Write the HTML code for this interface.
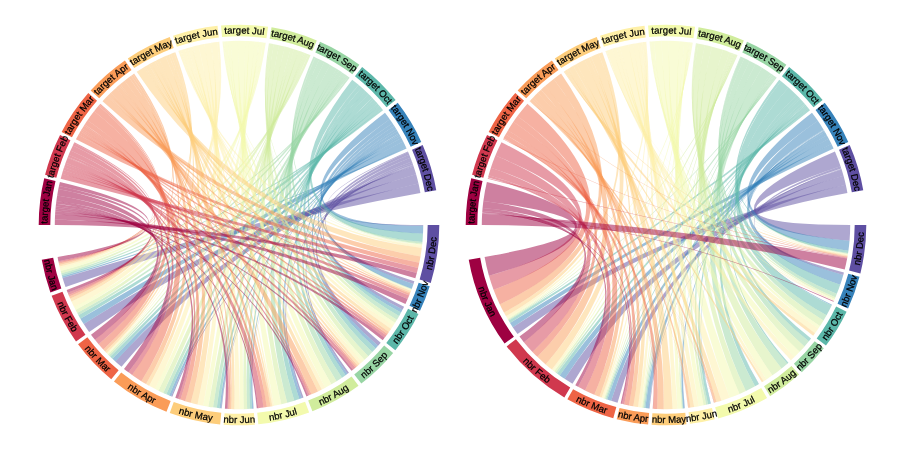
<!DOCTYPE html>
<html><head><meta charset="utf-8"><title>Chord diagrams</title>
<style>
html,body{margin:0;padding:0;background:#fff;}
body{width:900px;height:450px;overflow:hidden;}
svg{display:block;}
text{font-family:"Liberation Sans",sans-serif;font-size:9.6px;fill:#000;stroke:#000;stroke-width:0.25px;}
</style></head><body>
<svg width="900" height="450" viewBox="0 0 900 450">
<rect width="900" height="450" fill="#fff"/>
<defs>
<path id="p0_0" d="M78.85 329.99A191.5 191.5 0 0 1 107.79 85.51"/>
<path id="p0_1" d="M58.37 288.6A191.5 191.5 0 0 1 145 58.16"/>
<path id="p0_2" d="M48.4 243.51A191.5 191.5 0 0 1 187.67 40.51"/>
<path id="p0_3" d="M49.72 195.9A191.5 191.5 0 0 1 234.79 33.55"/>
<path id="p0_4" d="M62.76 150.09A191.5 191.5 0 0 1 282.16 38.43"/>
<path id="p0_5" d="M86.69 108.92A191.5 191.5 0 0 1 326.87 54.85"/>
<path id="p0_6" d="M120.05 74.93A191.5 191.5 0 0 1 366.14 81.79"/>
<path id="p0_7" d="M161.42 49.92A191.5 191.5 0 0 1 397.95 118.2"/>
<path id="p0_8" d="M207.03 36.19A191.5 191.5 0 0 1 419.39 160.73"/>
<path id="p0_9" d="M254.61 34.14A191.5 191.5 0 0 1 429.67 207.23"/>
<path id="p0_10" d="M301.23 43.89A191.5 191.5 0 0 1 428.16 254.83"/>
<path id="p0_11" d="M343.99 64.85A191.5 191.5 0 0 1 414.95 300.59"/>
<path id="p0_12" d="M59.78 140.84A198 198 0 0 0 124.99 386.88"/>
<path id="p0_13" d="M45.24 184.22A198 198 0 0 0 165.2 408.73"/>
<path id="p0_14" d="M41.36 236.93A198 198 0 0 0 216.43 421.71"/>
<path id="p0_15" d="M53.02 292.95A198 198 0 0 0 273.62 419.95"/>
<path id="p0_16" d="M81.27 344.68A198 198 0 0 0 329.47 401.12"/>
<path id="p0_17" d="M111.93 376.84A198 198 0 0 0 366.47 376.51"/>
<path id="p0_18" d="M149.17 401.45A198 198 0 0 0 397.17 344.1"/>
<path id="p0_19" d="M201.46 419.41A198 198 0 0 0 423.94 295.73"/>
<path id="p0_20" d="M252.71 422.52A198 198 0 0 0 435.9 245.8"/>
<path id="p0_21" d="M298.44 413.87A198 198 0 0 0 435.32 199.26"/>
<path id="p0_22" d="M333.23 399.14A198 198 0 0 0 426.86 162.44"/>
<path id="p0_23" d="M370.46 373.06A198 198 0 0 0 407.64 121.25"/>
<path id="p1_0" d="M505.85 329.99A191.5 191.5 0 0 1 534.79 85.51"/>
<path id="p1_1" d="M485.37 288.6A191.5 191.5 0 0 1 572 58.16"/>
<path id="p1_2" d="M475.4 243.51A191.5 191.5 0 0 1 614.67 40.51"/>
<path id="p1_3" d="M476.72 195.9A191.5 191.5 0 0 1 661.79 33.55"/>
<path id="p1_4" d="M489.76 150.09A191.5 191.5 0 0 1 709.16 38.43"/>
<path id="p1_5" d="M513.69 108.92A191.5 191.5 0 0 1 753.87 54.85"/>
<path id="p1_6" d="M547.05 74.93A191.5 191.5 0 0 1 793.14 81.79"/>
<path id="p1_7" d="M588.42 49.92A191.5 191.5 0 0 1 824.95 118.2"/>
<path id="p1_8" d="M634.03 36.19A191.5 191.5 0 0 1 846.39 160.73"/>
<path id="p1_9" d="M681.61 34.14A191.5 191.5 0 0 1 856.67 207.23"/>
<path id="p1_10" d="M728.23 43.89A191.5 191.5 0 0 1 855.16 254.83"/>
<path id="p1_11" d="M770.99 64.85A191.5 191.5 0 0 1 841.95 300.59"/>
<path id="p1_12" d="M476.5 167.61A198 198 0 0 0 576.57 401.65"/>
<path id="p1_13" d="M470.12 253.92A198 198 0 0 0 660.47 422.92"/>
<path id="p1_14" d="M490.56 316.79A198 198 0 0 0 725.94 413.71"/>
<path id="p1_15" d="M515 353.08A198 198 0 0 0 765.91 395.94"/>
<path id="p1_16" d="M541.03 378.58A198 198 0 0 0 795.55 374.74"/>
<path id="p1_17" d="M568.44 397.3A198 198 0 0 0 818.74 351"/>
<path id="p1_18" d="M607.12 414.04A198 198 0 0 0 841.95 315.81"/>
<path id="p1_19" d="M653.88 422.63A198 198 0 0 0 858.52 271.26"/>
<path id="p1_20" d="M691.28 421.38A198 198 0 0 0 863.79 234.21"/>
<path id="p1_21" d="M729.42 412.57A198 198 0 0 0 861.73 195.12"/>
<path id="p1_22" d="M765.58 396.14A198 198 0 0 0 851.83 156.65"/>
<path id="p1_23" d="M801.06 369.78A198 198 0 0 0 832.04 117.13"/>
</defs>
<g stroke="none">
<path d="M418.49 183.61A184.2 184.2 0 0 1 420.4 193.01Q239 225 65.57 287.06A184.2 184.2 0 0 1 62.57 277.94Q239 225 418.49 183.61Z" fill="#5E4FA2" fill-opacity="0.5"/>
<path d="M416.08 174.3A184.2 184.2 0 0 1 418.49 183.61Q239 225 89.11 332.07A184.2 184.2 0 0 1 83.73 324.1Q239 225 416.08 174.3Z" fill="#5E4FA2" fill-opacity="0.5"/>
<path d="M413.66 166.49A184.2 184.2 0 0 1 416.08 174.3Q239 225 121.51 366.87A184.2 184.2 0 0 1 115.34 361.52Q239 225 413.66 166.49Z" fill="#5E4FA2" fill-opacity="0.5"/>
<path d="M413.31 165.46A184.2 184.2 0 0 1 413.66 166.49Q239 225 172.3 396.7A184.2 184.2 0 0 1 171.29 396.3Q239 225 413.31 165.46Z" fill="#5E4FA2" fill-opacity="0.5"/>
<path d="M413.14 164.96A184.2 184.2 0 0 1 413.31 165.46Q239 225 221.7 408.39A184.2 184.2 0 0 1 221.17 408.33Q239 225 413.14 164.96Z" fill="#5E4FA2" fill-opacity="0.5"/>
<path d="M413.05 164.71A184.2 184.2 0 0 1 413.14 164.96Q239 225 253.58 408.62A184.2 184.2 0 0 1 253.32 408.64Q239 225 413.05 164.71Z" fill="#5E4FA2" fill-opacity="0.5"/>
<path d="M412.54 163.24A184.2 184.2 0 0 1 413.05 164.71Q239 225 303.51 397.54A184.2 184.2 0 0 1 302.04 398.08Q239 225 412.54 163.24Z" fill="#5E4FA2" fill-opacity="0.5"/>
<path d="M411.94 161.58A184.2 184.2 0 0 1 412.54 163.24Q239 225 348.93 372.8A184.2 184.2 0 0 1 347.5 373.85Q239 225 411.94 161.58Z" fill="#5E4FA2" fill-opacity="0.5"/>
<path d="M410.49 157.76A184.2 184.2 0 0 1 411.94 161.58Q239 225 380.72 342.66A184.2 184.2 0 0 1 378.08 345.77Q239 225 410.49 157.76Z" fill="#5E4FA2" fill-opacity="0.5"/>
<path d="M409.32 154.84A184.2 184.2 0 0 1 410.49 157.76Q239 225 404.05 306.79A184.2 184.2 0 0 1 402.63 309.59Q239 225 409.32 154.84Z" fill="#5E4FA2" fill-opacity="0.5"/>
<path d="M408.22 152.24A184.2 184.2 0 0 1 409.32 154.84Q239 225 414.38 281.31A184.2 184.2 0 0 1 413.5 284Q239 225 408.22 152.24Z" fill="#5E4FA2" fill-opacity="0.5"/>
<path d="M407.92 151.54A184.2 184.2 0 0 1 408.22 152.24Q239 225 423.2 225A184.2 184.2 0 0 1 423.2 225.76Q239 225 407.92 151.54Z" fill="#5E4FA2" fill-opacity="0.5"/>
<path d="M406.01 147.31A184.2 184.2 0 0 1 406.61 148.6Q239 225 62.57 277.94A184.2 184.2 0 0 1 62.17 276.58Q239 225 406.01 147.31Z" fill="#3682BA" fill-opacity="0.5"/>
<path d="M403.22 141.57A184.2 184.2 0 0 1 406.01 147.31Q239 225 83.73 324.1A184.2 184.2 0 0 1 80.39 318.66Q239 225 403.22 141.57Z" fill="#3682BA" fill-opacity="0.5"/>
<path d="M401.37 138.03A184.2 184.2 0 0 1 403.22 141.57Q239 225 115.34 361.52A184.2 184.2 0 0 1 112.4 358.8Q239 225 401.37 138.03Z" fill="#3682BA" fill-opacity="0.5"/>
<path d="M400.28 136.01A184.2 184.2 0 0 1 401.37 138.03Q239 225 171.29 396.3A184.2 184.2 0 0 1 169.16 395.45Q239 225 400.28 136.01Z" fill="#3682BA" fill-opacity="0.5"/>
<path d="M399.48 134.58A184.2 184.2 0 0 1 400.28 136.01Q239 225 221.17 408.33A184.2 184.2 0 0 1 219.53 408.17Q239 225 399.48 134.58Z" fill="#3682BA" fill-opacity="0.5"/>
<path d="M398.86 133.49A184.2 184.2 0 0 1 399.48 134.58Q239 225 253.32 408.64A184.2 184.2 0 0 1 252.07 408.74Q239 225 398.86 133.49Z" fill="#3682BA" fill-opacity="0.5"/>
<path d="M397.44 131.05A184.2 184.2 0 0 1 398.86 133.49Q239 225 302.04 398.08A184.2 184.2 0 0 1 299.38 399.02Q239 225 397.44 131.05Z" fill="#3682BA" fill-opacity="0.5"/>
<path d="M396.23 129.04A184.2 184.2 0 0 1 397.44 131.05Q239 225 347.5 373.85A184.2 184.2 0 0 1 345.61 375.21Q239 225 396.23 129.04Z" fill="#3682BA" fill-opacity="0.5"/>
<path d="M394.37 126.05A184.2 184.2 0 0 1 396.23 129.04Q239 225 378.08 345.77A184.2 184.2 0 0 1 375.75 348.41Q239 225 394.37 126.05Z" fill="#3682BA" fill-opacity="0.5"/>
<path d="M392.56 123.26A184.2 184.2 0 0 1 394.37 126.05Q239 225 402.63 309.59A184.2 184.2 0 0 1 401.07 312.54Q239 225 392.56 123.26Z" fill="#3682BA" fill-opacity="0.5"/>
<path d="M389.75 119.15A184.2 184.2 0 0 1 392.56 123.26Q239 225 413.5 284A184.2 184.2 0 0 1 411.84 288.7Q239 225 389.75 119.15Z" fill="#3682BA" fill-opacity="0.5"/>
<path d="M384.99 112.68A184.2 184.2 0 0 1 389.75 119.15Q239 225 423.2 225.76A184.2 184.2 0 0 1 422.99 233.78Q239 225 384.99 112.68Z" fill="#3682BA" fill-opacity="0.5"/>
<path d="M381.96 108.85A184.2 184.2 0 0 1 383.01 110.15Q239 225 62.17 276.58A184.2 184.2 0 0 1 61.71 274.97Q239 225 381.96 108.85Z" fill="#5CB7A9" fill-opacity="0.5"/>
<path d="M379.48 105.86A184.2 184.2 0 0 1 381.96 108.85Q239 225 80.39 318.66A184.2 184.2 0 0 1 78.45 315.3Q239 225 379.48 105.86Z" fill="#5CB7A9" fill-opacity="0.5"/>
<path d="M377.46 103.51A184.2 184.2 0 0 1 379.48 105.86Q239 225 112.4 358.8A184.2 184.2 0 0 1 110.17 356.65Q239 225 377.46 103.51Z" fill="#5CB7A9" fill-opacity="0.5"/>
<path d="M375.44 101.26A184.2 184.2 0 0 1 377.46 103.51Q239 225 169.16 395.45A184.2 184.2 0 0 1 166.37 394.28Q239 225 375.44 101.26Z" fill="#5CB7A9" fill-opacity="0.5"/>
<path d="M373.58 99.23A184.2 184.2 0 0 1 375.44 101.26Q239 225 219.53 408.17A184.2 184.2 0 0 1 216.8 407.86Q239 225 373.58 99.23Z" fill="#5CB7A9" fill-opacity="0.5"/>
<path d="M372.24 97.81A184.2 184.2 0 0 1 373.58 99.23Q239 225 252.07 408.74A184.2 184.2 0 0 1 250.12 408.86Q239 225 372.24 97.81Z" fill="#5CB7A9" fill-opacity="0.5"/>
<path d="M368.56 94.07A184.2 184.2 0 0 1 372.24 97.81Q239 225 299.38 399.02A184.2 184.2 0 0 1 294.4 400.67Q239 225 368.56 94.07Z" fill="#5CB7A9" fill-opacity="0.5"/>
<path d="M365.41 91.02A184.2 184.2 0 0 1 368.56 94.07Q239 225 345.61 375.21A184.2 184.2 0 0 1 342.01 377.71Q239 225 365.41 91.02Z" fill="#5CB7A9" fill-opacity="0.5"/>
<path d="M361.69 87.61A184.2 184.2 0 0 1 365.41 91.02Q239 225 375.75 348.41A184.2 184.2 0 0 1 372.31 352.12Q239 225 361.69 87.61Z" fill="#5CB7A9" fill-opacity="0.5"/>
<path d="M358.75 85.04A184.2 184.2 0 0 1 361.69 87.61Q239 225 401.07 312.54A184.2 184.2 0 0 1 399.18 315.95Q239 225 358.75 85.04Z" fill="#5CB7A9" fill-opacity="0.5"/>
<path d="M358.53 84.85A184.2 184.2 0 0 1 358.75 85.04Q239 225 411.84 288.7A184.2 184.2 0 0 1 411.74 288.97Q239 225 358.53 84.85Z" fill="#5CB7A9" fill-opacity="0.5"/>
<path d="M352.21 79.7A184.2 184.2 0 0 1 358.53 84.85Q239 225 422.99 233.78A184.2 184.2 0 0 1 422.42 241.91Q239 225 352.21 79.7Z" fill="#5CB7A9" fill-opacity="0.5"/>
<path d="M348.31 76.74A184.2 184.2 0 0 1 349.66 77.74Q239 225 61.71 274.97A184.2 184.2 0 0 1 61.26 273.35Q239 225 348.31 76.74Z" fill="#98D5A4" fill-opacity="0.5"/>
<path d="M346.29 75.27A184.2 184.2 0 0 1 348.31 76.74Q239 225 78.45 315.3A184.2 184.2 0 0 1 77.24 313.12Q239 225 346.29 75.27Z" fill="#98D5A4" fill-opacity="0.5"/>
<path d="M344.94 74.32A184.2 184.2 0 0 1 346.29 75.27Q239 225 110.17 356.65A184.2 184.2 0 0 1 108.99 355.49Q239 225 344.94 74.32Z" fill="#98D5A4" fill-opacity="0.5"/>
<path d="M342.14 72.38A184.2 184.2 0 0 1 344.94 74.32Q239 225 166.37 394.28A184.2 184.2 0 0 1 163.25 392.91Q239 225 342.14 72.38Z" fill="#98D5A4" fill-opacity="0.5"/>
<path d="M339.04 70.33A184.2 184.2 0 0 1 342.14 72.38Q239 225 216.8 407.86A184.2 184.2 0 0 1 213.12 407.37Q239 225 339.04 70.33Z" fill="#98D5A4" fill-opacity="0.5"/>
<path d="M336.56 68.76A184.2 184.2 0 0 1 339.04 70.33Q239 225 250.12 408.86A184.2 184.2 0 0 1 247.18 409.02Q239 225 336.56 68.76Z" fill="#98D5A4" fill-opacity="0.5"/>
<path d="M330.14 64.93A184.2 184.2 0 0 1 336.56 68.76Q239 225 294.4 400.67A184.2 184.2 0 0 1 287.23 402.77Q239 225 330.14 64.93Z" fill="#98D5A4" fill-opacity="0.5"/>
<path d="M324.46 61.83A184.2 184.2 0 0 1 330.14 64.93Q239 225 342.01 377.71A184.2 184.2 0 0 1 336.58 381.23Q239 225 324.46 61.83Z" fill="#98D5A4" fill-opacity="0.5"/>
<path d="M319.38 59.26A184.2 184.2 0 0 1 324.46 61.83Q239 225 372.31 352.12A184.2 184.2 0 0 1 368.32 356.17Q239 225 319.38 59.26Z" fill="#98D5A4" fill-opacity="0.5"/>
<path d="M315.41 57.39A184.2 184.2 0 0 1 319.38 59.26Q239 225 399.18 315.95A184.2 184.2 0 0 1 396.97 319.74Q239 225 315.41 57.39Z" fill="#98D5A4" fill-opacity="0.5"/>
<path d="M315.11 57.26A184.2 184.2 0 0 1 315.41 57.39Q239 225 411.74 288.97A184.2 184.2 0 0 1 411.62 289.28Q239 225 315.11 57.26Z" fill="#98D5A4" fill-opacity="0.5"/>
<path d="M313.49 56.54A184.2 184.2 0 0 1 315.11 57.26Q239 225 422.42 241.91A184.2 184.2 0 0 1 422.25 243.67Q239 225 313.49 56.54Z" fill="#98D5A4" fill-opacity="0.5"/>
<path d="M308.33 54.35A184.2 184.2 0 0 1 310.54 55.26Q239 225 61.26 273.35A184.2 184.2 0 0 1 60.65 271.04Q239 225 308.33 54.35Z" fill="#D0EC9C" fill-opacity="0.5"/>
<path d="M305.01 53.03A184.2 184.2 0 0 1 308.33 54.35Q239 225 77.24 313.12A184.2 184.2 0 0 1 75.57 309.97Q239 225 305.01 53.03Z" fill="#D0EC9C" fill-opacity="0.5"/>
<path d="M303.61 52.5A184.2 184.2 0 0 1 305.01 53.03Q239 225 108.99 355.49A184.2 184.2 0 0 1 107.93 354.42Q239 225 303.61 52.5Z" fill="#D0EC9C" fill-opacity="0.5"/>
<path d="M298.66 50.73A184.2 184.2 0 0 1 303.61 52.5Q239 225 163.25 392.91A184.2 184.2 0 0 1 158.5 390.68Q239 225 298.66 50.73Z" fill="#D0EC9C" fill-opacity="0.5"/>
<path d="M294.09 49.23A184.2 184.2 0 0 1 298.66 50.73Q239 225 213.12 407.37A184.2 184.2 0 0 1 208.37 406.63Q239 225 294.09 49.23Z" fill="#D0EC9C" fill-opacity="0.5"/>
<path d="M290.79 48.23A184.2 184.2 0 0 1 294.09 49.23Q239 225 247.18 409.02A184.2 184.2 0 0 1 243.73 409.14Q239 225 290.79 48.23Z" fill="#D0EC9C" fill-opacity="0.5"/>
<path d="M284.91 46.61A184.2 184.2 0 0 1 290.79 48.23Q239 225 287.23 402.77A184.2 184.2 0 0 1 281.32 404.27Q239 225 284.91 46.61Z" fill="#D0EC9C" fill-opacity="0.5"/>
<path d="M279.03 45.2A184.2 184.2 0 0 1 284.91 46.61Q239 225 336.58 381.23A184.2 184.2 0 0 1 331.4 384.35Q239 225 279.03 45.2Z" fill="#D0EC9C" fill-opacity="0.5"/>
<path d="M273.86 44.13A184.2 184.2 0 0 1 279.03 45.2Q239 225 368.32 356.17A184.2 184.2 0 0 1 364.5 359.83Q239 225 273.86 44.13Z" fill="#D0EC9C" fill-opacity="0.5"/>
<path d="M270.33 43.48A184.2 184.2 0 0 1 273.86 44.13Q239 225 396.97 319.74A184.2 184.2 0 0 1 395.09 322.8Q239 225 270.33 43.48Z" fill="#D0EC9C" fill-opacity="0.5"/>
<path d="M270.07 43.44A184.2 184.2 0 0 1 270.33 43.48Q239 225 411.62 289.28A184.2 184.2 0 0 1 411.53 289.53Q239 225 270.07 43.44Z" fill="#D0EC9C" fill-opacity="0.5"/>
<path d="M268.93 43.25A184.2 184.2 0 0 1 270.07 43.44Q239 225 422.25 243.67A184.2 184.2 0 0 1 422.13 244.82Q239 225 268.93 43.25Z" fill="#D0EC9C" fill-opacity="0.5"/>
<path d="M263.08 42.38A184.2 184.2 0 0 1 265.75 42.75Q239 225 60.65 271.04A184.2 184.2 0 0 1 59.99 268.42Q239 225 263.08 42.38Z" fill="#F3FAAD" fill-opacity="0.5"/>
<path d="M259.53 41.95A184.2 184.2 0 0 1 263.08 42.38Q239 225 75.57 309.97A184.2 184.2 0 0 1 73.95 306.78Q239 225 259.53 41.95Z" fill="#F3FAAD" fill-opacity="0.5"/>
<path d="M258.53 41.84A184.2 184.2 0 0 1 259.53 41.95Q239 225 107.93 354.42A184.2 184.2 0 0 1 107.22 353.7Q239 225 258.53 41.84Z" fill="#F3FAAD" fill-opacity="0.5"/>
<path d="M254.48 41.45A184.2 184.2 0 0 1 258.53 41.84Q239 225 158.5 390.68A184.2 184.2 0 0 1 154.86 388.86Q239 225 254.48 41.45Z" fill="#F3FAAD" fill-opacity="0.5"/>
<path d="M249.17 41.08A184.2 184.2 0 0 1 254.48 41.45Q239 225 208.37 406.63A184.2 184.2 0 0 1 203.13 405.67Q239 225 249.17 41.08Z" fill="#F3FAAD" fill-opacity="0.5"/>
<path d="M245.23 40.91A184.2 184.2 0 0 1 249.17 41.08Q239 225 243.73 409.14A184.2 184.2 0 0 1 239.78 409.2Q239 225 245.23 40.91Z" fill="#F3FAAD" fill-opacity="0.5"/>
<path d="M237.88 40.8A184.2 184.2 0 0 1 245.23 40.91Q239 225 281.32 404.27A184.2 184.2 0 0 1 274.14 405.82Q239 225 237.88 40.8Z" fill="#F3FAAD" fill-opacity="0.5"/>
<path d="M230.82 40.98A184.2 184.2 0 0 1 237.88 40.8Q239 225 331.4 384.35A184.2 184.2 0 0 1 325.22 387.77Q239 225 230.82 40.98Z" fill="#F3FAAD" fill-opacity="0.5"/>
<path d="M227.67 41.15A184.2 184.2 0 0 1 230.82 40.98Q239 225 364.5 359.83A184.2 184.2 0 0 1 362.18 361.95Q239 225 227.67 41.15Z" fill="#F3FAAD" fill-opacity="0.5"/>
<path d="M224.17 41.4A184.2 184.2 0 0 1 227.67 41.15Q239 225 395.09 322.8A184.2 184.2 0 0 1 393.2 325.76Q239 225 224.17 41.4Z" fill="#F3FAAD" fill-opacity="0.5"/>
<path d="M223.46 41.46A184.2 184.2 0 0 1 224.17 41.4Q239 225 411.53 289.53A184.2 184.2 0 0 1 411.28 290.19Q239 225 223.46 41.46Z" fill="#F3FAAD" fill-opacity="0.5"/>
<path d="M222.45 41.54A184.2 184.2 0 0 1 223.46 41.46Q239 225 422.13 244.82A184.2 184.2 0 0 1 422.02 245.83Q239 225 222.45 41.54Z" fill="#F3FAAD" fill-opacity="0.5"/>
<path d="M217.31 42.08A184.2 184.2 0 0 1 219.26 41.86Q239 225 59.99 268.42A184.2 184.2 0 0 1 59.54 266.52Q239 225 217.31 42.08Z" fill="#FEF0A7" fill-opacity="0.5"/>
<path d="M211.53 42.86A184.2 184.2 0 0 1 217.31 42.08Q239 225 73.95 306.78A184.2 184.2 0 0 1 71.44 301.51Q239 225 211.53 42.86Z" fill="#FEF0A7" fill-opacity="0.5"/>
<path d="M210.59 43A184.2 184.2 0 0 1 211.53 42.86Q239 225 107.22 353.7A184.2 184.2 0 0 1 106.56 353.02Q239 225 210.59 43Z" fill="#FEF0A7" fill-opacity="0.5"/>
<path d="M204.2 44.12A184.2 184.2 0 0 1 210.59 43Q239 225 154.86 388.86A184.2 184.2 0 0 1 149.14 385.8Q239 225 204.2 44.12Z" fill="#FEF0A7" fill-opacity="0.5"/>
<path d="M198.53 45.3A184.2 184.2 0 0 1 204.2 44.12Q239 225 203.13 405.67A184.2 184.2 0 0 1 197.47 404.46Q239 225 198.53 45.3Z" fill="#FEF0A7" fill-opacity="0.5"/>
<path d="M193.24 46.57A184.2 184.2 0 0 1 198.53 45.3Q239 225 239.78 409.2A184.2 184.2 0 0 1 234.34 409.14Q239 225 193.24 46.57Z" fill="#FEF0A7" fill-opacity="0.5"/>
<path d="M191.6 47A184.2 184.2 0 0 1 193.24 46.57Q239 225 274.14 405.82A184.2 184.2 0 0 1 272.47 406.13Q239 225 191.6 47Z" fill="#FEF0A7" fill-opacity="0.5"/>
<path d="M187.9 48.03A184.2 184.2 0 0 1 191.6 47Q239 225 325.22 387.77A184.2 184.2 0 0 1 321.81 389.54Q239 225 187.9 48.03Z" fill="#FEF0A7" fill-opacity="0.5"/>
<path d="M184.81 48.95A184.2 184.2 0 0 1 187.9 48.03Q239 225 362.18 361.95A184.2 184.2 0 0 1 359.76 364.09Q239 225 184.81 48.95Z" fill="#FEF0A7" fill-opacity="0.5"/>
<path d="M181.17 50.11A184.2 184.2 0 0 1 184.81 48.95Q239 225 393.2 325.76A184.2 184.2 0 0 1 391.07 328.94Q239 225 181.17 50.11Z" fill="#FEF0A7" fill-opacity="0.5"/>
<path d="M180.44 50.36A184.2 184.2 0 0 1 181.17 50.11Q239 225 411.28 290.19A184.2 184.2 0 0 1 411 290.91Q239 225 180.44 50.36Z" fill="#FEF0A7" fill-opacity="0.5"/>
<path d="M178.36 51.07A184.2 184.2 0 0 1 180.44 50.36Q239 225 422.02 245.83A184.2 184.2 0 0 1 421.76 248.01Q239 225 178.36 51.07Z" fill="#FEF0A7" fill-opacity="0.5"/>
<path d="M173.8 52.72A184.2 184.2 0 0 1 175.33 52.15Q239 225 59.54 266.52A184.2 184.2 0 0 1 59.18 264.93Q239 225 173.8 52.72Z" fill="#FDCD7B" fill-opacity="0.5"/>
<path d="M170.78 53.9A184.2 184.2 0 0 1 173.8 52.72Q239 225 71.44 301.51A184.2 184.2 0 0 1 70.12 298.55Q239 225 170.78 53.9Z" fill="#FDCD7B" fill-opacity="0.5"/>
<path d="M168.82 54.69A184.2 184.2 0 0 1 170.78 53.9Q239 225 106.56 353.02A184.2 184.2 0 0 1 105.09 351.48Q239 225 168.82 54.69Z" fill="#FDCD7B" fill-opacity="0.5"/>
<path d="M165.5 56.1A184.2 184.2 0 0 1 168.82 54.69Q239 225 149.14 385.8A184.2 184.2 0 0 1 146.02 384.01Q239 225 165.5 56.1Z" fill="#FDCD7B" fill-opacity="0.5"/>
<path d="M159.17 59A184.2 184.2 0 0 1 165.5 56.1Q239 225 197.47 404.46A184.2 184.2 0 0 1 190.72 402.76Q239 225 159.17 59Z" fill="#FDCD7B" fill-opacity="0.5"/>
<path d="M156.31 60.4A184.2 184.2 0 0 1 159.17 59Q239 225 234.34 409.14A184.2 184.2 0 0 1 231.17 409.03Q239 225 156.31 60.4Z" fill="#FDCD7B" fill-opacity="0.5"/>
<path d="M154.63 61.26A184.2 184.2 0 0 1 156.31 60.4Q239 225 272.47 406.13A184.2 184.2 0 0 1 270.61 406.47Q239 225 154.63 61.26Z" fill="#FDCD7B" fill-opacity="0.5"/>
<path d="M150.86 63.25A184.2 184.2 0 0 1 154.63 61.26Q239 225 321.81 389.54A184.2 184.2 0 0 1 317.98 391.41Q239 225 150.86 63.25Z" fill="#FDCD7B" fill-opacity="0.5"/>
<path d="M148.71 64.45A184.2 184.2 0 0 1 150.86 63.25Q239 225 359.76 364.09A184.2 184.2 0 0 1 357.89 365.69Q239 225 148.71 64.45Z" fill="#FDCD7B" fill-opacity="0.5"/>
<path d="M145.42 66.34A184.2 184.2 0 0 1 148.71 64.45Q239 225 391.07 328.94A184.2 184.2 0 0 1 388.9 332.05Q239 225 145.42 66.34Z" fill="#FDCD7B" fill-opacity="0.5"/>
<path d="M143.95 67.22A184.2 184.2 0 0 1 145.42 66.34Q239 225 411 290.91A184.2 184.2 0 0 1 410.39 292.5Q239 225 143.95 67.22Z" fill="#FDCD7B" fill-opacity="0.5"/>
<path d="M136.73 71.8A184.2 184.2 0 0 1 143.95 67.22Q239 225 421.76 248.01A184.2 184.2 0 0 1 420.49 256.47Q239 225 136.73 71.8Z" fill="#FDCD7B" fill-opacity="0.5"/>
<path d="M132.95 74.39A184.2 184.2 0 0 1 134.07 73.61Q239 225 59.18 264.93A184.2 184.2 0 0 1 58.89 263.6Q239 225 132.95 74.39Z" fill="#FA9C58" fill-opacity="0.5"/>
<path d="M131.11 75.71A184.2 184.2 0 0 1 132.95 74.39Q239 225 70.12 298.55A184.2 184.2 0 0 1 69.23 296.47Q239 225 131.11 75.71Z" fill="#FA9C58" fill-opacity="0.5"/>
<path d="M128.95 77.29A184.2 184.2 0 0 1 131.11 75.71Q239 225 105.09 351.48A184.2 184.2 0 0 1 103.27 349.53Q239 225 128.95 77.29Z" fill="#FA9C58" fill-opacity="0.5"/>
<path d="M124.6 80.63A184.2 184.2 0 0 1 128.95 77.29Q239 225 146.02 384.01A184.2 184.2 0 0 1 141.32 381.17Q239 225 124.6 80.63Z" fill="#FA9C58" fill-opacity="0.5"/>
<path d="M120.08 84.33A184.2 184.2 0 0 1 124.6 80.63Q239 225 190.72 402.76A184.2 184.2 0 0 1 185.1 401.14Q239 225 120.08 84.33Z" fill="#FA9C58" fill-opacity="0.5"/>
<path d="M118.86 85.37A184.2 184.2 0 0 1 120.08 84.33Q239 225 231.17 409.03A184.2 184.2 0 0 1 229.57 408.96Q239 225 118.86 85.37Z" fill="#FA9C58" fill-opacity="0.5"/>
<path d="M115.98 87.91A184.2 184.2 0 0 1 118.86 85.37Q239 225 270.61 406.47A184.2 184.2 0 0 1 266.83 407.09Q239 225 115.98 87.91Z" fill="#FA9C58" fill-opacity="0.5"/>
<path d="M110.74 92.79A184.2 184.2 0 0 1 115.98 87.91Q239 225 317.98 391.41A184.2 184.2 0 0 1 311.45 394.35Q239 225 110.74 92.79Z" fill="#FA9C58" fill-opacity="0.5"/>
<path d="M109.54 93.97A184.2 184.2 0 0 1 110.74 92.79Q239 225 357.89 365.69A184.2 184.2 0 0 1 356.6 366.77Q239 225 109.54 93.97Z" fill="#FA9C58" fill-opacity="0.5"/>
<path d="M107.94 95.56A184.2 184.2 0 0 1 109.54 93.97Q239 225 388.9 332.05A184.2 184.2 0 0 1 387.58 333.88Q239 225 107.94 95.56Z" fill="#FA9C58" fill-opacity="0.5"/>
<path d="M106.94 96.59A184.2 184.2 0 0 1 107.94 95.56Q239 225 410.39 292.5A184.2 184.2 0 0 1 409.86 293.83Q239 225 106.94 96.59Z" fill="#FA9C58" fill-opacity="0.5"/>
<path d="M102.56 101.26A184.2 184.2 0 0 1 106.94 96.59Q239 225 420.49 256.47A184.2 184.2 0 0 1 419.29 262.76Q239 225 102.56 101.26Z" fill="#FA9C58" fill-opacity="0.5"/>
<path d="M99.59 104.61A184.2 184.2 0 0 1 100.42 103.66Q239 225 58.89 263.6A184.2 184.2 0 0 1 58.63 262.36Q239 225 99.59 104.61Z" fill="#EE6445" fill-opacity="0.5"/>
<path d="M98.51 105.87A184.2 184.2 0 0 1 99.59 104.61Q239 225 69.23 296.47A184.2 184.2 0 0 1 68.59 294.93Q239 225 98.51 105.87Z" fill="#EE6445" fill-opacity="0.5"/>
<path d="M94.08 111.31A184.2 184.2 0 0 1 98.51 105.87Q239 225 103.27 349.53A184.2 184.2 0 0 1 98.63 344.28Q239 225 94.08 111.31Z" fill="#EE6445" fill-opacity="0.5"/>
<path d="M87.47 120.26A184.2 184.2 0 0 1 94.08 111.31Q239 225 141.32 381.17A184.2 184.2 0 0 1 132.07 374.98Q239 225 87.47 120.26Z" fill="#EE6445" fill-opacity="0.5"/>
<path d="M84.7 124.39A184.2 184.2 0 0 1 87.47 120.26Q239 225 185.1 401.14A184.2 184.2 0 0 1 180.37 399.62Q239 225 84.7 124.39Z" fill="#EE6445" fill-opacity="0.5"/>
<path d="M83.9 125.63A184.2 184.2 0 0 1 84.7 124.39Q239 225 229.57 408.96A184.2 184.2 0 0 1 228.1 408.88Q239 225 83.9 125.63Z" fill="#EE6445" fill-opacity="0.5"/>
<path d="M82.14 128.44A184.2 184.2 0 0 1 83.9 125.63Q239 225 266.83 407.09A184.2 184.2 0 0 1 263.53 407.56Q239 225 82.14 128.44Z" fill="#EE6445" fill-opacity="0.5"/>
<path d="M81.17 130.03A184.2 184.2 0 0 1 82.14 128.44Q239 225 311.45 394.35A184.2 184.2 0 0 1 309.74 395.07Q239 225 81.17 130.03Z" fill="#EE6445" fill-opacity="0.5"/>
<path d="M80.37 131.36A184.2 184.2 0 0 1 81.17 130.03Q239 225 356.6 366.77A184.2 184.2 0 0 1 355.4 367.76Q239 225 80.37 131.36Z" fill="#EE6445" fill-opacity="0.5"/>
<path d="M79.33 133.16A184.2 184.2 0 0 1 80.37 131.36Q239 225 387.58 333.88A184.2 184.2 0 0 1 386.34 335.54Q239 225 79.33 133.16Z" fill="#EE6445" fill-opacity="0.5"/>
<path d="M78.46 134.68A184.2 184.2 0 0 1 79.33 133.16Q239 225 409.86 293.83A184.2 184.2 0 0 1 409.19 295.46Q239 225 78.46 134.68Z" fill="#EE6445" fill-opacity="0.5"/>
<path d="M75.91 139.37A184.2 184.2 0 0 1 78.46 134.68Q239 225 419.29 262.76A184.2 184.2 0 0 1 418.12 267.97Q239 225 75.91 139.37Z" fill="#EE6445" fill-opacity="0.5"/>
<path d="M73.89 143.34A184.2 184.2 0 0 1 74.44 142.23Q239 225 58.63 262.36A184.2 184.2 0 0 1 58.38 261.15Q239 225 73.89 143.34Z" fill="#D0384E" fill-opacity="0.5"/>
<path d="M72.9 145.38A184.2 184.2 0 0 1 73.89 143.34Q239 225 68.59 294.93A184.2 184.2 0 0 1 67.74 292.83Q239 225 72.9 145.38Z" fill="#D0384E" fill-opacity="0.5"/>
<path d="M70.48 150.62A184.2 184.2 0 0 1 72.9 145.38Q239 225 98.63 344.28A184.2 184.2 0 0 1 94.96 339.82Q239 225 70.48 150.62Z" fill="#D0384E" fill-opacity="0.5"/>
<path d="M68.72 154.75A184.2 184.2 0 0 1 70.48 150.62Q239 225 132.07 374.98A184.2 184.2 0 0 1 128.45 372.33Q239 225 68.72 154.75Z" fill="#D0384E" fill-opacity="0.5"/>
<path d="M67.8 157.02A184.2 184.2 0 0 1 68.72 154.75Q239 225 180.37 399.62A184.2 184.2 0 0 1 178.06 398.83Q239 225 67.8 157.02Z" fill="#D0384E" fill-opacity="0.5"/>
<path d="M67.54 157.69A184.2 184.2 0 0 1 67.8 157.02Q239 225 228.1 408.88A184.2 184.2 0 0 1 227.37 408.83Q239 225 67.54 157.69Z" fill="#D0384E" fill-opacity="0.5"/>
<path d="M65.66 162.68A184.2 184.2 0 0 1 67.54 157.69Q239 225 263.53 407.56A184.2 184.2 0 0 1 258.24 408.19Q239 225 65.66 162.68Z" fill="#D0384E" fill-opacity="0.5"/>
<path d="M65.05 164.4A184.2 184.2 0 0 1 65.66 162.68Q239 225 309.74 395.07A184.2 184.2 0 0 1 308.05 395.77Q239 225 65.05 164.4Z" fill="#D0384E" fill-opacity="0.5"/>
<path d="M64.07 167.31A184.2 184.2 0 0 1 65.05 164.4Q239 225 355.4 367.76A184.2 184.2 0 0 1 353 369.68Q239 225 64.07 167.31Z" fill="#D0384E" fill-opacity="0.5"/>
<path d="M63.18 170.06A184.2 184.2 0 0 1 64.07 167.31Q239 225 386.34 335.54A184.2 184.2 0 0 1 384.59 337.84Q239 225 63.18 170.06Z" fill="#D0384E" fill-opacity="0.5"/>
<path d="M62.06 173.8A184.2 184.2 0 0 1 63.18 170.06Q239 225 409.19 295.46A184.2 184.2 0 0 1 407.66 299.05Q239 225 62.06 173.8Z" fill="#D0384E" fill-opacity="0.5"/>
<path d="M60.67 178.87A184.2 184.2 0 0 1 62.06 173.8Q239 225 418.12 267.97A184.2 184.2 0 0 1 416.82 273.06Q239 225 60.67 178.87Z" fill="#D0384E" fill-opacity="0.5"/>
<path d="M58.95 186.12A184.2 184.2 0 0 1 59.89 181.99Q239 225 58.38 261.15A184.2 184.2 0 0 1 57.6 256.99Q239 225 58.95 186.12Z" fill="#9E0142" fill-opacity="0.5"/>
<path d="M58.35 189A184.2 184.2 0 0 1 58.95 186.12Q239 225 67.74 292.83A184.2 184.2 0 0 1 66.68 290.08Q239 225 58.35 189Z" fill="#9E0142" fill-opacity="0.5"/>
<path d="M57.2 195.39A184.2 184.2 0 0 1 58.35 189Q239 225 94.96 339.82A184.2 184.2 0 0 1 91.01 334.67Q239 225 57.2 195.39Z" fill="#9E0142" fill-opacity="0.5"/>
<path d="M56.38 200.94A184.2 184.2 0 0 1 57.2 195.39Q239 225 128.45 372.33A184.2 184.2 0 0 1 124.01 368.9Q239 225 56.38 200.94Z" fill="#9E0142" fill-opacity="0.5"/>
<path d="M56.02 203.85A184.2 184.2 0 0 1 56.38 200.94Q239 225 178.06 398.83A184.2 184.2 0 0 1 175.31 397.84Q239 225 56.02 203.85Z" fill="#9E0142" fill-opacity="0.5"/>
<path d="M55.75 206.31A184.2 184.2 0 0 1 56.02 203.85Q239 225 227.37 408.83A184.2 184.2 0 0 1 224.9 408.66Q239 225 55.75 206.31Z" fill="#9E0142" fill-opacity="0.5"/>
<path d="M55.61 207.77A184.2 184.2 0 0 1 55.75 206.31Q239 225 258.24 408.19A184.2 184.2 0 0 1 256.78 408.34Q239 225 55.61 207.77Z" fill="#9E0142" fill-opacity="0.5"/>
<path d="M55.46 209.43A184.2 184.2 0 0 1 55.61 207.77Q239 225 308.05 395.77A184.2 184.2 0 0 1 306.51 396.38Q239 225 55.46 209.43Z" fill="#9E0142" fill-opacity="0.5"/>
<path d="M55.31 211.34A184.2 184.2 0 0 1 55.46 209.43Q239 225 353 369.68A184.2 184.2 0 0 1 351.49 370.86Q239 225 55.31 211.34Z" fill="#9E0142" fill-opacity="0.5"/>
<path d="M55.11 214.3A184.2 184.2 0 0 1 55.31 211.34Q239 225 384.59 337.84A184.2 184.2 0 0 1 382.76 340.17Q239 225 55.11 214.3Z" fill="#9E0142" fill-opacity="0.5"/>
<path d="M54.88 219.62A184.2 184.2 0 0 1 55.11 214.3Q239 225 407.66 299.05A184.2 184.2 0 0 1 405.45 303.89Q239 225 54.88 219.62Z" fill="#9E0142" fill-opacity="0.5"/>
<path d="M54.8 225A184.2 184.2 0 0 1 54.88 219.62Q239 225 416.82 273.06A184.2 184.2 0 0 1 415.34 278.24Q239 225 54.8 225Z" fill="#9E0142" fill-opacity="0.5"/>
<path d="M38.7 225A200.3 200.3 0 0 1 44.24 178.23L55.52 180.94A188.7 188.7 0 0 0 50.3 225Z" fill="#9E0142"/>
<path d="M45.08 174.83A200.3 200.3 0 0 1 60.06 135L70.42 140.21A188.7 188.7 0 0 0 56.31 177.74Z" fill="#D0384E"/>
<path d="M61.66 131.89A200.3 200.3 0 0 1 88.3 93.05L97.03 100.69A188.7 188.7 0 0 0 71.93 137.28Z" fill="#EE6445"/>
<path d="M90.63 90.44A200.3 200.3 0 0 1 124.9 60.38L131.51 69.91A188.7 188.7 0 0 0 99.22 98.23Z" fill="#FA9C58"/>
<path d="M127.79 58.41A200.3 200.3 0 0 1 169.76 37.05L173.77 47.93A188.7 188.7 0 0 0 134.23 68.06Z" fill="#FDCD7B"/>
<path d="M173.06 35.87A200.3 200.3 0 0 1 217.53 25.85L218.77 37.39A188.7 188.7 0 0 0 176.87 46.82Z" fill="#FEF0A7"/>
<path d="M221.01 25.51A200.3 200.3 0 0 1 268.09 26.82L266.41 38.3A188.7 188.7 0 0 0 222.05 37.06Z" fill="#F3FAAD"/>
<path d="M271.54 27.36A200.3 200.3 0 0 1 316.8 40.43L312.29 51.11A188.7 188.7 0 0 0 269.66 38.81Z" fill="#D0EC9C"/>
<path d="M320.01 41.81A200.3 200.3 0 0 1 359.33 64.87L352.36 74.15A188.7 188.7 0 0 0 315.31 52.42Z" fill="#98D5A4"/>
<path d="M362.11 67A200.3 200.3 0 0 1 395.6 100.11L386.53 107.34A188.7 188.7 0 0 0 354.98 76.15Z" fill="#5CB7A9"/>
<path d="M397.75 102.86A200.3 200.3 0 0 1 421.26 141.92L410.7 146.74A188.7 188.7 0 0 0 388.56 109.94Z" fill="#3682BA"/>
<path d="M422.68 145.12A200.3 200.3 0 0 1 436.26 190.22L424.83 192.23A188.7 188.7 0 0 0 412.04 149.74Z" fill="#5E4FA2"/>
<path d="M50.41 292.49A200.3 200.3 0 0 1 41.74 259.78L53.17 257.77A188.7 188.7 0 0 0 61.33 288.58Z" fill="#9E0142"/>
<path d="M76.01 341.43A200.3 200.3 0 0 1 51.62 295.77L62.47 291.67A188.7 188.7 0 0 0 85.45 334.69Z" fill="#D0384E"/>
<path d="M111.24 379.27A200.3 200.3 0 0 1 78.07 344.26L87.39 337.35A188.7 188.7 0 0 0 118.64 370.33Z" fill="#EE6445"/>
<path d="M166.47 411.71A200.3 200.3 0 0 1 113.95 381.47L121.2 372.41A188.7 188.7 0 0 0 170.67 400.89Z" fill="#FA9C58"/>
<path d="M220.18 424.41A200.3 200.3 0 0 1 169.74 412.94L173.75 402.06A188.7 188.7 0 0 0 221.27 412.87Z" fill="#FDCD7B"/>
<path d="M254.85 424.67A200.3 200.3 0 0 1 223.67 424.71L224.56 413.15A188.7 188.7 0 0 0 253.94 413.11Z" fill="#FEF0A7"/>
<path d="M309.15 412.62A200.3 200.3 0 0 1 258.34 424.36L257.22 412.82A188.7 188.7 0 0 0 305.08 401.75Z" fill="#F3FAAD"/>
<path d="M358.54 385.72A200.3 200.3 0 0 1 312.41 411.36L308.16 400.57A188.7 188.7 0 0 0 351.61 376.41Z" fill="#D0EC9C"/>
<path d="M393.11 352.95A200.3 200.3 0 0 1 361.32 383.61L354.24 374.42A188.7 188.7 0 0 0 384.19 345.54Z" fill="#98D5A4"/>
<path d="M418.47 313.94A200.3 200.3 0 0 1 395.32 350.24L386.27 342.98A188.7 188.7 0 0 0 408.08 308.78Z" fill="#5CB7A9"/>
<path d="M429.71 286.23A200.3 200.3 0 0 1 420 310.79L409.52 305.82A188.7 188.7 0 0 0 418.67 282.68Z" fill="#3682BA"/>
<path d="M439.3 225A200.3 200.3 0 0 1 430.75 282.89L419.65 279.54A188.7 188.7 0 0 0 427.7 225Z" fill="#5E4FA2"/>
<path d="M845.77 184.83A184.2 184.2 0 0 1 847.4 193.01Q666 225 517.55 334.05A184.2 184.2 0 0 1 512.76 327.21Q666 225 845.77 184.83Z" fill="#5E4FA2" fill-opacity="0.5"/>
<path d="M843.52 175.83A184.2 184.2 0 0 1 845.77 184.83Q666 225 572.51 383.71A184.2 184.2 0 0 1 564.64 378.8Q666 225 843.52 175.83Z" fill="#5E4FA2" fill-opacity="0.5"/>
<path d="M841.65 169.53A184.2 184.2 0 0 1 843.52 175.83Q666 225 617.52 402.71A184.2 184.2 0 0 1 611.21 400.86Q666 225 841.65 169.53Z" fill="#5E4FA2" fill-opacity="0.5"/>
<path d="M841.48 168.98A184.2 184.2 0 0 1 841.65 169.53Q666 225 649.53 408.46A184.2 184.2 0 0 1 648.96 408.41Q666 225 841.48 168.98Z" fill="#5E4FA2" fill-opacity="0.5"/>
<path d="M841.43 168.84A184.2 184.2 0 0 1 841.48 168.98Q666 225 684.81 408.24A184.2 184.2 0 0 1 684.66 408.25Q666 225 841.43 168.84Z" fill="#5E4FA2" fill-opacity="0.5"/>
<path d="M841.38 168.67A184.2 184.2 0 0 1 841.41 168.78Q666 225 758.93 384.04A184.2 184.2 0 0 1 758.84 384.1Q666 225 841.38 168.67Z" fill="#5E4FA2" fill-opacity="0.5"/>
<path d="M840.56 166.18A184.2 184.2 0 0 1 841.33 168.53Q666 225 843.94 272.61A184.2 184.2 0 0 1 843.29 275Q666 225 840.56 166.18Z" fill="#5E4FA2" fill-opacity="0.5"/>
<path d="M834.92 151.54A184.2 184.2 0 0 1 840.56 166.18Q666 225 850.2 225A184.2 184.2 0 0 1 849.53 240.68Q666 225 834.92 151.54Z" fill="#5E4FA2" fill-opacity="0.5"/>
<path d="M831.48 144.09A184.2 184.2 0 0 1 833.61 148.6Q666 225 512.76 327.21A184.2 184.2 0 0 1 510.04 323.02Q666 225 831.48 144.09Z" fill="#3682BA" fill-opacity="0.5"/>
<path d="M828.78 138.79A184.2 184.2 0 0 1 831.48 144.09Q666 225 564.64 378.8A184.2 184.2 0 0 1 559.73 375.45Q666 225 828.78 138.79Z" fill="#3682BA" fill-opacity="0.5"/>
<path d="M826.8 135.15A184.2 184.2 0 0 1 828.78 138.79Q666 225 611.21 400.86A184.2 184.2 0 0 1 607.28 399.59Q666 225 826.8 135.15Z" fill="#3682BA" fill-opacity="0.5"/>
<path d="M824.99 131.98A184.2 184.2 0 0 1 826.8 135.15Q666 225 648.96 408.41A184.2 184.2 0 0 1 645.32 408.04Q666 225 824.99 131.98Z" fill="#3682BA" fill-opacity="0.5"/>
<path d="M824.24 130.71A184.2 184.2 0 0 1 824.99 131.98Q666 225 684.66 408.25A184.2 184.2 0 0 1 683.19 408.4Q666 225 824.24 130.71Z" fill="#3682BA" fill-opacity="0.5"/>
<path d="M824 130.31A184.2 184.2 0 0 1 824.24 130.71Q666 225 710.82 403.66A184.2 184.2 0 0 1 710.37 403.78Q666 225 824 130.31Z" fill="#3682BA" fill-opacity="0.5"/>
<path d="M823.94 130.21A184.2 184.2 0 0 1 824 130.31Q666 225 758.84 384.1A184.2 184.2 0 0 1 758.74 384.15Q666 225 823.94 130.21Z" fill="#3682BA" fill-opacity="0.5"/>
<path d="M823.44 129.38A184.2 184.2 0 0 1 823.87 130.09Q666 225 832.05 304.73A184.2 184.2 0 0 1 831.69 305.47Q666 225 823.44 129.38Z" fill="#3682BA" fill-opacity="0.5"/>
<path d="M817.89 120.79A184.2 184.2 0 0 1 823.44 129.38Q666 225 843.29 275A184.2 184.2 0 0 1 840.24 284.76Q666 225 817.89 120.79Z" fill="#3682BA" fill-opacity="0.5"/>
<path d="M811.99 112.68A184.2 184.2 0 0 1 817.89 120.79Q666 225 849.53 240.68A184.2 184.2 0 0 1 848.41 250.64Q666 225 811.99 112.68Z" fill="#3682BA" fill-opacity="0.5"/>
<path d="M808.42 108.18A184.2 184.2 0 0 1 810.01 110.15Q666 225 510.04 323.02A184.2 184.2 0 0 1 508.71 320.86Q666 225 808.42 108.18Z" fill="#5CB7A9" fill-opacity="0.5"/>
<path d="M806.32 105.66A184.2 184.2 0 0 1 808.42 108.18Q666 225 559.73 375.45A184.2 184.2 0 0 1 557.07 373.54Q666 225 806.32 105.66Z" fill="#5CB7A9" fill-opacity="0.5"/>
<path d="M805.52 104.73A184.2 184.2 0 0 1 806.32 105.66Q666 225 607.28 399.59A184.2 184.2 0 0 1 606.11 399.19Q666 225 805.52 104.73Z" fill="#5CB7A9" fill-opacity="0.5"/>
<path d="M804.77 103.88A184.2 184.2 0 0 1 805.52 104.73Q666 225 645.32 408.04A184.2 184.2 0 0 1 644.19 407.9Q666 225 804.77 103.88Z" fill="#5CB7A9" fill-opacity="0.5"/>
<path d="M804.51 103.58A184.2 184.2 0 0 1 804.77 103.88Q666 225 683.19 408.4A184.2 184.2 0 0 1 682.8 408.43Q666 225 804.51 103.58Z" fill="#5CB7A9" fill-opacity="0.5"/>
<path d="M802.94 101.8A184.2 184.2 0 0 1 804.51 103.58Q666 225 710.37 403.78A184.2 184.2 0 0 1 708.06 404.33Q666 225 802.94 101.8Z" fill="#5CB7A9" fill-opacity="0.5"/>
<path d="M800.06 98.68A184.2 184.2 0 0 1 802.94 101.8Q666 225 758.74 384.15A184.2 184.2 0 0 1 755.05 386.25Q666 225 800.06 98.68Z" fill="#5CB7A9" fill-opacity="0.5"/>
<path d="M799.04 97.6A184.2 184.2 0 0 1 800.06 98.68Q666 225 788.41 362.64A184.2 184.2 0 0 1 787.3 363.63Q666 225 799.04 97.6Z" fill="#5CB7A9" fill-opacity="0.5"/>
<path d="M796.55 95.05A184.2 184.2 0 0 1 799.04 97.6Q666 225 811.05 338.54A184.2 184.2 0 0 1 808.83 341.32Q666 225 796.55 95.05Z" fill="#5CB7A9" fill-opacity="0.5"/>
<path d="M788.52 87.45A184.2 184.2 0 0 1 796.55 95.05Q666 225 831.69 305.47A184.2 184.2 0 0 1 826.56 315.27Q666 225 788.52 87.45Z" fill="#5CB7A9" fill-opacity="0.5"/>
<path d="M781.08 81.18A184.2 184.2 0 0 1 788.52 87.45Q666 225 840.24 284.76A184.2 184.2 0 0 1 836.84 293.87Q666 225 781.08 81.18Z" fill="#5CB7A9" fill-opacity="0.5"/>
<path d="M779.21 79.7A184.2 184.2 0 0 1 781.08 81.18Q666 225 848.41 250.64A184.2 184.2 0 0 1 848.06 253.01Q666 225 779.21 79.7Z" fill="#5CB7A9" fill-opacity="0.5"/>
<path d="M775.83 77.12A184.2 184.2 0 0 1 776.66 77.74Q666 225 508.71 320.86A184.2 184.2 0 0 1 508.18 319.98Q666 225 775.83 77.12Z" fill="#98D5A4" fill-opacity="0.5"/>
<path d="M774.39 76.07A184.2 184.2 0 0 1 775.83 77.12Q666 225 557.07 373.54A184.2 184.2 0 0 1 555.64 372.48Q666 225 774.39 76.07Z" fill="#98D5A4" fill-opacity="0.5"/>
<path d="M773.56 75.46A184.2 184.2 0 0 1 774.39 76.07Q666 225 606.11 399.19A184.2 184.2 0 0 1 605.13 398.85Q666 225 773.56 75.46Z" fill="#98D5A4" fill-opacity="0.5"/>
<path d="M772.7 74.85A184.2 184.2 0 0 1 773.56 75.46Q666 225 644.19 407.9A184.2 184.2 0 0 1 643.15 407.78Q666 225 772.7 74.85Z" fill="#98D5A4" fill-opacity="0.5"/>
<path d="M772.34 74.59A184.2 184.2 0 0 1 772.7 74.85Q666 225 682.8 408.43A184.2 184.2 0 0 1 682.35 408.47Q666 225 772.34 74.59Z" fill="#98D5A4" fill-opacity="0.5"/>
<path d="M770.73 73.47A184.2 184.2 0 0 1 772.34 74.59Q666 225 708.06 404.33A184.2 184.2 0 0 1 706.15 404.77Q666 225 770.73 73.47Z" fill="#98D5A4" fill-opacity="0.5"/>
<path d="M762.06 67.83A184.2 184.2 0 0 1 770.73 73.47Q666 225 755.05 386.25A184.2 184.2 0 0 1 745.86 390.99Q666 225 762.06 67.83Z" fill="#98D5A4" fill-opacity="0.5"/>
<path d="M755.65 64.09A184.2 184.2 0 0 1 762.06 67.83Q666 225 787.3 363.63A184.2 184.2 0 0 1 781.62 368.4Q666 225 755.65 64.09Z" fill="#98D5A4" fill-opacity="0.5"/>
<path d="M749.78 60.96A184.2 184.2 0 0 1 755.65 64.09Q666 225 808.83 341.32A184.2 184.2 0 0 1 804.53 346.4Q666 225 749.78 60.96Z" fill="#98D5A4" fill-opacity="0.5"/>
<path d="M744.41 58.32A184.2 184.2 0 0 1 749.78 60.96Q666 225 826.56 315.27A184.2 184.2 0 0 1 823.54 320.44Q666 225 744.41 58.32Z" fill="#98D5A4" fill-opacity="0.5"/>
<path d="M741.11 56.81A184.2 184.2 0 0 1 744.41 58.32Q666 225 836.84 293.87A184.2 184.2 0 0 1 835.45 297.23Q666 225 741.11 56.81Z" fill="#98D5A4" fill-opacity="0.5"/>
<path d="M740.49 56.54A184.2 184.2 0 0 1 741.11 56.81Q666 225 848.06 253.01A184.2 184.2 0 0 1 847.96 253.67Q666 225 740.49 56.54Z" fill="#98D5A4" fill-opacity="0.5"/>
<path d="M736.59 54.86A184.2 184.2 0 0 1 737.54 55.26Q666 225 508.18 319.98A184.2 184.2 0 0 1 507.65 319.09Q666 225 736.59 54.86Z" fill="#D0EC9C" fill-opacity="0.5"/>
<path d="M734.85 54.15A184.2 184.2 0 0 1 736.59 54.86Q666 225 555.64 372.48A184.2 184.2 0 0 1 554.13 371.34Q666 225 734.85 54.15Z" fill="#D0EC9C" fill-opacity="0.5"/>
<path d="M733.89 53.77A184.2 184.2 0 0 1 734.85 54.15Q666 225 605.13 398.85A184.2 184.2 0 0 1 604.16 398.51Q666 225 733.89 53.77Z" fill="#D0EC9C" fill-opacity="0.5"/>
<path d="M732.9 53.38A184.2 184.2 0 0 1 733.89 53.77Q666 225 643.15 407.78A184.2 184.2 0 0 1 642.1 407.64Q666 225 732.9 53.38Z" fill="#D0EC9C" fill-opacity="0.5"/>
<path d="M732.08 53.06A184.2 184.2 0 0 1 732.9 53.38Q666 225 682.35 408.47A184.2 184.2 0 0 1 681.47 408.55Q666 225 732.08 53.06Z" fill="#D0EC9C" fill-opacity="0.5"/>
<path d="M729.59 52.13A184.2 184.2 0 0 1 732.08 53.06Q666 225 706.15 404.77A184.2 184.2 0 0 1 703.55 405.33Q666 225 729.59 52.13Z" fill="#D0EC9C" fill-opacity="0.5"/>
<path d="M723 49.84A184.2 184.2 0 0 1 729.59 52.13Q666 225 745.86 390.99A184.2 184.2 0 0 1 739.51 393.9Q666 225 723 49.84Z" fill="#D0EC9C" fill-opacity="0.5"/>
<path d="M711.97 46.63A184.2 184.2 0 0 1 723 49.84Q666 225 781.62 368.4A184.2 184.2 0 0 1 772.45 375.32Q666 225 711.97 46.63Z" fill="#D0EC9C" fill-opacity="0.5"/>
<path d="M704.85 44.94A184.2 184.2 0 0 1 711.97 46.63Q666 225 804.53 346.4A184.2 184.2 0 0 1 799.6 351.81Q666 225 704.85 44.94Z" fill="#D0EC9C" fill-opacity="0.5"/>
<path d="M698.37 43.67A184.2 184.2 0 0 1 704.85 44.94Q666 225 823.54 320.44A184.2 184.2 0 0 1 820.02 326.03Q666 225 698.37 43.67Z" fill="#D0EC9C" fill-opacity="0.5"/>
<path d="M696.59 43.36A184.2 184.2 0 0 1 698.37 43.67Q666 225 835.45 297.23A184.2 184.2 0 0 1 834.73 298.89Q666 225 696.59 43.36Z" fill="#D0EC9C" fill-opacity="0.5"/>
<path d="M695.93 43.25A184.2 184.2 0 0 1 696.59 43.36Q666 225 847.96 253.67A184.2 184.2 0 0 1 847.85 254.33Q666 225 695.93 43.25Z" fill="#D0EC9C" fill-opacity="0.5"/>
<path d="M691.6 42.59A184.2 184.2 0 0 1 692.75 42.75Q666 225 507.65 319.09A184.2 184.2 0 0 1 507.06 318.09Q666 225 691.6 42.59Z" fill="#F3FAAD" fill-opacity="0.5"/>
<path d="M690.2 42.4A184.2 184.2 0 0 1 691.6 42.59Q666 225 554.13 371.34A184.2 184.2 0 0 1 553.01 370.48Q666 225 690.2 42.4Z" fill="#F3FAAD" fill-opacity="0.5"/>
<path d="M689.28 42.28A184.2 184.2 0 0 1 690.2 42.4Q666 225 604.16 398.51A184.2 184.2 0 0 1 603.29 398.19Q666 225 689.28 42.28Z" fill="#F3FAAD" fill-opacity="0.5"/>
<path d="M688.15 42.14A184.2 184.2 0 0 1 689.28 42.28Q666 225 642.1 407.64A184.2 184.2 0 0 1 640.97 407.49Q666 225 688.15 42.14Z" fill="#F3FAAD" fill-opacity="0.5"/>
<path d="M684.2 41.7A184.2 184.2 0 0 1 688.15 42.14Q666 225 681.47 408.55A184.2 184.2 0 0 1 677.51 408.84Q666 225 684.2 41.7Z" fill="#F3FAAD" fill-opacity="0.5"/>
<path d="M679.44 41.29A184.2 184.2 0 0 1 684.2 41.7Q666 225 703.55 405.33A184.2 184.2 0 0 1 698.87 406.24Q666 225 679.44 41.29Z" fill="#F3FAAD" fill-opacity="0.5"/>
<path d="M668.9 40.82A184.2 184.2 0 0 1 679.44 41.29Q666 225 739.51 393.9A184.2 184.2 0 0 1 729.71 397.83Q666 225 668.9 40.82Z" fill="#F3FAAD" fill-opacity="0.5"/>
<path d="M661.57 40.85A184.2 184.2 0 0 1 668.9 40.82Q666 225 772.45 375.32A184.2 184.2 0 0 1 766.39 379.44Q666 225 661.57 40.85Z" fill="#F3FAAD" fill-opacity="0.5"/>
<path d="M654.1 41.18A184.2 184.2 0 0 1 661.57 40.85Q666 225 799.6 351.81A184.2 184.2 0 0 1 794.35 357.12Q666 225 654.1 41.18Z" fill="#F3FAAD" fill-opacity="0.5"/>
<path d="M651.14 41.4A184.2 184.2 0 0 1 654.1 41.18Q666 225 820.02 326.03A184.2 184.2 0 0 1 818.38 328.5Q666 225 651.14 41.4Z" fill="#F3FAAD" fill-opacity="0.5"/>
<path d="M650.05 41.49A184.2 184.2 0 0 1 651.14 41.4Q666 225 834.73 298.89A184.2 184.2 0 0 1 834.29 299.89Q666 225 650.05 41.49Z" fill="#F3FAAD" fill-opacity="0.5"/>
<path d="M649.45 41.54A184.2 184.2 0 0 1 650.05 41.49Q666 225 847.85 254.33A184.2 184.2 0 0 1 847.75 254.92Q666 225 649.45 41.54Z" fill="#F3FAAD" fill-opacity="0.5"/>
<path d="M643.97 42.12A184.2 184.2 0 0 1 646.26 41.86Q666 225 507.06 318.09A184.2 184.2 0 0 1 505.91 316.1Q666 225 643.97 42.12Z" fill="#FEF0A7" fill-opacity="0.5"/>
<path d="M642.49 42.31A184.2 184.2 0 0 1 643.97 42.12Q666 225 553.01 370.48A184.2 184.2 0 0 1 551.84 369.56Q666 225 642.49 42.31Z" fill="#FEF0A7" fill-opacity="0.5"/>
<path d="M640.78 42.53A184.2 184.2 0 0 1 642.49 42.31Q666 225 603.29 398.19A184.2 184.2 0 0 1 601.67 397.6Q666 225 640.78 42.53Z" fill="#FEF0A7" fill-opacity="0.5"/>
<path d="M637.8 42.97A184.2 184.2 0 0 1 640.78 42.53Q666 225 640.97 407.49A184.2 184.2 0 0 1 637.99 407.06Q666 225 637.8 42.97Z" fill="#FEF0A7" fill-opacity="0.5"/>
<path d="M632.98 43.78A184.2 184.2 0 0 1 637.8 42.97Q666 225 677.51 408.84A184.2 184.2 0 0 1 672.63 409.08Q666 225 632.98 43.78Z" fill="#FEF0A7" fill-opacity="0.5"/>
<path d="M628.28 44.7A184.2 184.2 0 0 1 632.98 43.78Q666 225 698.87 406.24A184.2 184.2 0 0 1 694.14 407.04Q666 225 628.28 44.7Z" fill="#FEF0A7" fill-opacity="0.5"/>
<path d="M619.74 46.7A184.2 184.2 0 0 1 628.28 44.7Q666 225 729.71 397.83A184.2 184.2 0 0 1 721.41 400.67Q666 225 619.74 46.7Z" fill="#FEF0A7" fill-opacity="0.5"/>
<path d="M616.55 47.56A184.2 184.2 0 0 1 619.74 46.7Q666 225 766.39 379.44A184.2 184.2 0 0 1 763.6 381.22Q666 225 616.55 47.56Z" fill="#FEF0A7" fill-opacity="0.5"/>
<path d="M612.23 48.82A184.2 184.2 0 0 1 616.55 47.56Q666 225 794.35 357.12A184.2 184.2 0 0 1 791.08 360.22Q666 225 612.23 48.82Z" fill="#FEF0A7" fill-opacity="0.5"/>
<path d="M606.62 50.63A184.2 184.2 0 0 1 612.23 48.82Q666 225 818.38 328.5A184.2 184.2 0 0 1 814.99 333.31Q666 225 606.62 50.63Z" fill="#FEF0A7" fill-opacity="0.5"/>
<path d="M605.81 50.91A184.2 184.2 0 0 1 606.62 50.63Q666 225 834.29 299.89A184.2 184.2 0 0 1 833.94 300.68Q666 225 605.81 50.91Z" fill="#FEF0A7" fill-opacity="0.5"/>
<path d="M605.36 51.07A184.2 184.2 0 0 1 605.81 50.91Q666 225 847.75 254.92A184.2 184.2 0 0 1 847.68 255.39Q666 225 605.36 51.07Z" fill="#FEF0A7" fill-opacity="0.5"/>
<path d="M598.51 53.61A184.2 184.2 0 0 1 602.33 52.15Q666 225 505.91 316.1A184.2 184.2 0 0 1 503.92 312.53Q666 225 598.51 53.61Z" fill="#FDCD7B" fill-opacity="0.5"/>
<path d="M591.08 56.73A184.2 184.2 0 0 1 598.51 53.61Q666 225 551.84 369.56A184.2 184.2 0 0 1 545.62 364.42Q666 225 591.08 56.73Z" fill="#FDCD7B" fill-opacity="0.5"/>
<path d="M588.8 57.76A184.2 184.2 0 0 1 591.08 56.73Q666 225 601.67 397.6A184.2 184.2 0 0 1 599.34 396.71Q666 225 588.8 57.76Z" fill="#FDCD7B" fill-opacity="0.5"/>
<path d="M584.5 59.81A184.2 184.2 0 0 1 588.8 57.76Q666 225 637.99 407.06A184.2 184.2 0 0 1 633.29 406.27Q666 225 584.5 59.81Z" fill="#FDCD7B" fill-opacity="0.5"/>
<path d="M576.52 63.99A184.2 184.2 0 0 1 584.5 59.81Q666 225 672.63 409.08A184.2 184.2 0 0 1 663.63 409.18Q666 225 576.52 63.99Z" fill="#FDCD7B" fill-opacity="0.5"/>
<path d="M573.22 65.87A184.2 184.2 0 0 1 576.52 63.99Q666 225 694.14 407.04A184.2 184.2 0 0 1 690.39 407.58Q666 225 573.22 65.87Z" fill="#FDCD7B" fill-opacity="0.5"/>
<path d="M568.89 68.48A184.2 184.2 0 0 1 573.22 65.87Q666 225 721.41 400.67A184.2 184.2 0 0 1 716.57 402.12Q666 225 568.89 68.48Z" fill="#FDCD7B" fill-opacity="0.5"/>
<path d="M567.18 69.55A184.2 184.2 0 0 1 568.89 68.48Q666 225 763.6 381.22A184.2 184.2 0 0 1 761.89 382.27Q666 225 567.18 69.55Z" fill="#FDCD7B" fill-opacity="0.5"/>
<path d="M567.08 69.61A184.2 184.2 0 0 1 567.18 69.55Q666 225 791.08 360.22A184.2 184.2 0 0 1 790.99 360.3Q666 225 567.08 69.61Z" fill="#FDCD7B" fill-opacity="0.5"/>
<path d="M564.58 71.24A184.2 184.2 0 0 1 567.08 69.61Q666 225 814.99 333.31A184.2 184.2 0 0 1 813.21 335.72Q666 225 564.58 71.24Z" fill="#FDCD7B" fill-opacity="0.5"/>
<path d="M564.48 71.3A184.2 184.2 0 0 1 564.58 71.24Q666 225 833.94 300.68A184.2 184.2 0 0 1 833.89 300.78Q666 225 564.48 71.3Z" fill="#FDCD7B" fill-opacity="0.5"/>
<path d="M563.73 71.8A184.2 184.2 0 0 1 564.48 71.3Q666 225 847.68 255.39A184.2 184.2 0 0 1 847.52 256.28Q666 225 563.73 71.8Z" fill="#FDCD7B" fill-opacity="0.5"/>
<path d="M553.73 78.97A184.2 184.2 0 0 1 561.07 73.61Q666 225 503.92 312.53A184.2 184.2 0 0 1 499.8 304.43Q666 225 553.73 78.97Z" fill="#FA9C58" fill-opacity="0.5"/>
<path d="M545.05 86.07A184.2 184.2 0 0 1 553.73 78.97Q666 225 545.62 364.42A184.2 184.2 0 0 1 537.36 356.84Q666 225 545.05 86.07Z" fill="#FA9C58" fill-opacity="0.5"/>
<path d="M541.01 89.7A184.2 184.2 0 0 1 545.05 86.07Q666 225 599.34 396.71A184.2 184.2 0 0 1 594.3 394.67Q666 225 541.01 89.7Z" fill="#FA9C58" fill-opacity="0.5"/>
<path d="M537.73 92.8A184.2 184.2 0 0 1 541.01 89.7Q666 225 633.29 406.27A184.2 184.2 0 0 1 628.85 405.42Q666 225 537.73 92.8Z" fill="#FA9C58" fill-opacity="0.5"/>
<path d="M533.16 97.39A184.2 184.2 0 0 1 537.73 92.8Q666 225 663.63 409.18A184.2 184.2 0 0 1 657.15 408.99Q666 225 533.16 97.39Z" fill="#FA9C58" fill-opacity="0.5"/>
<path d="M531.7 98.93A184.2 184.2 0 0 1 533.16 97.39Q666 225 690.39 407.58A184.2 184.2 0 0 1 688.28 407.85Q666 225 531.7 98.93Z" fill="#FA9C58" fill-opacity="0.5"/>
<path d="M530.09 100.66A184.2 184.2 0 0 1 531.7 98.93Q666 225 716.57 402.12A184.2 184.2 0 0 1 714.29 402.76Q666 225 530.09 100.66Z" fill="#FA9C58" fill-opacity="0.5"/>
<path d="M529.56 101.26A184.2 184.2 0 0 1 529.94 100.84Q666 225 847.52 256.28A184.2 184.2 0 0 1 847.43 256.84Q666 225 529.56 101.26Z" fill="#FA9C58" fill-opacity="0.5"/>
<path d="M517.42 116.12A184.2 184.2 0 0 1 527.42 103.66Q666 225 499.8 304.43A184.2 184.2 0 0 1 493.55 289.73Q666 225 517.42 116.12Z" fill="#EE6445" fill-opacity="0.5"/>
<path d="M513.41 121.82A184.2 184.2 0 0 1 517.42 116.12Q666 225 537.36 356.84A184.2 184.2 0 0 1 532.47 351.88Q666 225 513.41 121.82Z" fill="#EE6445" fill-opacity="0.5"/>
<path d="M507.94 130.42A184.2 184.2 0 0 1 513.41 121.82Q666 225 594.3 394.67A184.2 184.2 0 0 1 585.02 390.45Q666 225 507.94 130.42Z" fill="#EE6445" fill-opacity="0.5"/>
<path d="M505.51 134.61A184.2 184.2 0 0 1 507.94 130.42Q666 225 628.85 405.42A184.2 184.2 0 0 1 624.12 404.38Q666 225 505.51 134.61Z" fill="#EE6445" fill-opacity="0.5"/>
<path d="M503.51 138.24A184.2 184.2 0 0 1 505.51 134.61Q666 225 657.15 408.99A184.2 184.2 0 0 1 653.02 408.74Q666 225 503.51 138.24Z" fill="#EE6445" fill-opacity="0.5"/>
<path d="M503.43 138.39A184.2 184.2 0 0 1 503.51 138.24Q666 225 688.28 407.85A184.2 184.2 0 0 1 688.11 407.87Q666 225 503.43 138.39Z" fill="#EE6445" fill-opacity="0.5"/>
<path d="M503.39 138.47A184.2 184.2 0 0 1 503.43 138.39Q666 225 714.29 402.76A184.2 184.2 0 0 1 714.2 402.78Q666 225 503.39 138.47Z" fill="#EE6445" fill-opacity="0.5"/>
<path d="M502.91 139.37A184.2 184.2 0 0 1 503.29 138.66Q666 225 847.43 256.84A184.2 184.2 0 0 1 847.29 257.63Q666 225 502.91 139.37Z" fill="#EE6445" fill-opacity="0.5"/>
<path d="M495.37 155.6A184.2 184.2 0 0 1 501.44 142.23Q666 225 493.55 289.73A184.2 184.2 0 0 1 488.94 275.78Q666 225 495.37 155.6Z" fill="#D0384E" fill-opacity="0.5"/>
<path d="M490.9 167.82A184.2 184.2 0 0 1 495.37 155.6Q666 225 532.47 351.88A184.2 184.2 0 0 1 523.84 342.14Q666 225 490.9 167.82Z" fill="#D0384E" fill-opacity="0.5"/>
<path d="M488.62 175.33A184.2 184.2 0 0 1 490.9 167.82Q666 225 585.02 390.45A184.2 184.2 0 0 1 578.05 386.85Q666 225 488.62 175.33Z" fill="#D0384E" fill-opacity="0.5"/>
<path d="M488.05 177.43A184.2 184.2 0 0 1 488.62 175.33Q666 225 624.12 404.38A184.2 184.2 0 0 1 622 403.87Q666 225 488.05 177.43Z" fill="#D0384E" fill-opacity="0.5"/>
<path d="M488.01 177.58A184.2 184.2 0 0 1 488.05 177.43Q666 225 653.02 408.74A184.2 184.2 0 0 1 652.87 408.73Q666 225 488.01 177.58Z" fill="#D0384E" fill-opacity="0.5"/>
<path d="M487.96 177.75A184.2 184.2 0 0 1 487.99 177.63Q666 225 714.2 402.78A184.2 184.2 0 0 1 714.08 402.81Q666 225 487.96 177.75Z" fill="#D0384E" fill-opacity="0.5"/>
<path d="M487.67 178.87A184.2 184.2 0 0 1 487.9 177.98Q666 225 847.29 257.63A184.2 184.2 0 0 1 847.12 258.54Q666 225 487.67 178.87Z" fill="#D0384E" fill-opacity="0.5"/>
<path d="M483.38 200.96A184.2 184.2 0 0 1 486.89 181.99Q666 225 488.94 275.78A184.2 184.2 0 0 1 484.6 256.99Q666 225 483.38 200.96Z" fill="#9E0142" fill-opacity="0.5"/>
<path d="M482.59 207.95A184.2 184.2 0 0 1 483.38 200.96Q666 225 523.84 342.14A184.2 184.2 0 0 1 519.47 336.62Q666 225 482.59 207.95Z" fill="#9E0142" fill-opacity="0.5"/>
<path d="M482.33 211.09A184.2 184.2 0 0 1 482.59 207.95Q666 225 578.05 386.85A184.2 184.2 0 0 1 575.3 385.32Q666 225 482.33 211.09Z" fill="#9E0142" fill-opacity="0.5"/>
<path d="M482.22 212.51A184.2 184.2 0 0 1 482.33 211.09Q666 225 622 403.87A184.2 184.2 0 0 1 620.63 403.52Q666 225 482.22 212.51Z" fill="#9E0142" fill-opacity="0.5"/>
<path d="M482.22 212.64A184.2 184.2 0 0 1 482.22 212.51Q666 225 652.87 408.73A184.2 184.2 0 0 1 652.73 408.72Q666 225 482.22 212.64Z" fill="#9E0142" fill-opacity="0.5"/>
<path d="M482.2 212.79A184.2 184.2 0 0 1 482.21 212.69Q666 225 714.08 402.81A184.2 184.2 0 0 1 713.98 402.84Q666 225 482.2 212.79Z" fill="#9E0142" fill-opacity="0.5"/>
<path d="M482.14 213.79A184.2 184.2 0 0 1 482.2 212.93Q666 225 833.8 300.98A184.2 184.2 0 0 1 833.44 301.77Q666 225 482.14 213.79Z" fill="#9E0142" fill-opacity="0.5"/>
<path d="M481.8 225A184.2 184.2 0 0 1 482.14 213.79Q666 225 847.12 258.54A184.2 184.2 0 0 1 844.74 269.5Q666 225 481.8 225Z" fill="#9E0142" fill-opacity="0.5"/>
<path d="M465.7 225A200.3 200.3 0 0 1 471.24 178.23L482.52 180.94A188.7 188.7 0 0 0 477.3 225Z" fill="#9E0142"/>
<path d="M472.08 174.83A200.3 200.3 0 0 1 487.06 135L497.42 140.21A188.7 188.7 0 0 0 483.31 177.74Z" fill="#D0384E"/>
<path d="M488.66 131.89A200.3 200.3 0 0 1 515.3 93.05L524.03 100.69A188.7 188.7 0 0 0 498.93 137.28Z" fill="#EE6445"/>
<path d="M517.63 90.44A200.3 200.3 0 0 1 551.9 60.38L558.51 69.91A188.7 188.7 0 0 0 526.22 98.23Z" fill="#FA9C58"/>
<path d="M554.79 58.41A200.3 200.3 0 0 1 596.76 37.05L600.77 47.93A188.7 188.7 0 0 0 561.23 68.06Z" fill="#FDCD7B"/>
<path d="M600.06 35.87A200.3 200.3 0 0 1 644.53 25.85L645.77 37.39A188.7 188.7 0 0 0 603.87 46.82Z" fill="#FEF0A7"/>
<path d="M648.01 25.51A200.3 200.3 0 0 1 695.09 26.82L693.41 38.3A188.7 188.7 0 0 0 649.05 37.06Z" fill="#F3FAAD"/>
<path d="M698.54 27.36A200.3 200.3 0 0 1 743.8 40.43L739.29 51.11A188.7 188.7 0 0 0 696.66 38.81Z" fill="#D0EC9C"/>
<path d="M747.01 41.81A200.3 200.3 0 0 1 786.33 64.87L779.36 74.15A188.7 188.7 0 0 0 742.31 52.42Z" fill="#98D5A4"/>
<path d="M789.11 67A200.3 200.3 0 0 1 822.6 100.11L813.53 107.34A188.7 188.7 0 0 0 781.98 76.15Z" fill="#5CB7A9"/>
<path d="M824.75 102.86A200.3 200.3 0 0 1 848.26 141.92L837.7 146.74A188.7 188.7 0 0 0 815.56 109.94Z" fill="#3682BA"/>
<path d="M849.68 145.12A200.3 200.3 0 0 1 863.26 190.22L851.83 192.23A188.7 188.7 0 0 0 839.04 149.74Z" fill="#5E4FA2"/>
<path d="M504.57 343.58A200.3 200.3 0 0 1 468.74 259.78L480.17 257.77A188.7 188.7 0 0 0 513.92 336.71Z" fill="#9E0142"/>
<path d="M564.34 397.58A200.3 200.3 0 0 1 506.67 346.38L515.89 339.35A188.7 188.7 0 0 0 570.23 387.59Z" fill="#D0384E"/>
<path d="M613.28 418.24A200.3 200.3 0 0 1 567.37 399.33L573.08 389.24A188.7 188.7 0 0 0 616.33 407.05Z" fill="#EE6445"/>
<path d="M648.09 424.5A200.3 200.3 0 0 1 616.66 419.13L619.52 407.89A188.7 188.7 0 0 0 649.13 412.94Z" fill="#FA9C58"/>
<path d="M686.45 424.25A200.3 200.3 0 0 1 651.57 424.78L652.41 413.21A188.7 188.7 0 0 0 685.27 412.71Z" fill="#FDCD7B"/>
<path d="M714.8 419.27A200.3 200.3 0 0 1 689.92 423.87L688.54 412.35A188.7 188.7 0 0 0 711.97 408.01Z" fill="#FEF0A7"/>
<path d="M767.06 397.94A200.3 200.3 0 0 1 718.18 418.38L715.16 407.18A188.7 188.7 0 0 0 761.2 387.92Z" fill="#F3FAAD"/>
<path d="M799.19 374.6A200.3 200.3 0 0 1 770.06 396.15L764.03 386.24A188.7 188.7 0 0 0 791.48 365.93Z" fill="#D0EC9C"/>
<path d="M823.82 348.34A200.3 200.3 0 0 1 801.78 372.25L793.92 363.72A188.7 188.7 0 0 0 814.68 341.2Z" fill="#98D5A4"/>
<path d="M846.59 311.64A200.3 200.3 0 0 1 825.95 345.57L816.68 338.59A188.7 188.7 0 0 0 836.13 306.62Z" fill="#5CB7A9"/>
<path d="M859.49 276.77A200.3 200.3 0 0 1 848.08 308.48L837.53 303.64A188.7 188.7 0 0 0 848.29 273.78Z" fill="#3682BA"/>
<path d="M866.3 225A200.3 200.3 0 0 1 860.37 273.39L849.11 270.59A188.7 188.7 0 0 0 854.7 225Z" fill="#5E4FA2"/>
</g>
<g style="filter:grayscale(1)">
<text><textPath href="#p0_0" startOffset="50%" text-anchor="middle">target Jan</textPath></text>
<text><textPath href="#p0_1" startOffset="50%" text-anchor="middle">target Feb</textPath></text>
<text><textPath href="#p0_2" startOffset="50%" text-anchor="middle">target Mar</textPath></text>
<text><textPath href="#p0_3" startOffset="50%" text-anchor="middle">target Apr</textPath></text>
<text><textPath href="#p0_4" startOffset="50%" text-anchor="middle">target May</textPath></text>
<text><textPath href="#p0_5" startOffset="50%" text-anchor="middle">target Jun</textPath></text>
<text><textPath href="#p0_6" startOffset="50%" text-anchor="middle">target Jul</textPath></text>
<text><textPath href="#p0_7" startOffset="50%" text-anchor="middle">target Aug</textPath></text>
<text><textPath href="#p0_8" startOffset="50%" text-anchor="middle">target Sep</textPath></text>
<text><textPath href="#p0_9" startOffset="50%" text-anchor="middle">target Oct</textPath></text>
<text><textPath href="#p0_10" startOffset="50%" text-anchor="middle">target Nov</textPath></text>
<text><textPath href="#p0_11" startOffset="50%" text-anchor="middle">target Dec</textPath></text>
<text><textPath href="#p0_12" startOffset="50%" text-anchor="middle">nbr Jan</textPath></text>
<text><textPath href="#p0_13" startOffset="50%" text-anchor="middle">nbr Feb</textPath></text>
<text><textPath href="#p0_14" startOffset="50%" text-anchor="middle">nbr Mar</textPath></text>
<text><textPath href="#p0_15" startOffset="50%" text-anchor="middle">nbr Apr</textPath></text>
<text><textPath href="#p0_16" startOffset="50%" text-anchor="middle">nbr May</textPath></text>
<text><textPath href="#p0_17" startOffset="50%" text-anchor="middle">nbr Jun</textPath></text>
<text><textPath href="#p0_18" startOffset="50%" text-anchor="middle">nbr Jul</textPath></text>
<text><textPath href="#p0_19" startOffset="50%" text-anchor="middle">nbr Aug</textPath></text>
<text><textPath href="#p0_20" startOffset="50%" text-anchor="middle">nbr Sep</textPath></text>
<text><textPath href="#p0_21" startOffset="50%" text-anchor="middle">nbr Oct</textPath></text>
<text><textPath href="#p0_22" startOffset="50%" text-anchor="middle">nbr Nov</textPath></text>
<text><textPath href="#p0_23" startOffset="50%" text-anchor="middle">nbr Dec</textPath></text>
<text><textPath href="#p1_0" startOffset="50%" text-anchor="middle">target Jan</textPath></text>
<text><textPath href="#p1_1" startOffset="50%" text-anchor="middle">target Feb</textPath></text>
<text><textPath href="#p1_2" startOffset="50%" text-anchor="middle">target Mar</textPath></text>
<text><textPath href="#p1_3" startOffset="50%" text-anchor="middle">target Apr</textPath></text>
<text><textPath href="#p1_4" startOffset="50%" text-anchor="middle">target May</textPath></text>
<text><textPath href="#p1_5" startOffset="50%" text-anchor="middle">target Jun</textPath></text>
<text><textPath href="#p1_6" startOffset="50%" text-anchor="middle">target Jul</textPath></text>
<text><textPath href="#p1_7" startOffset="50%" text-anchor="middle">target Aug</textPath></text>
<text><textPath href="#p1_8" startOffset="50%" text-anchor="middle">target Sep</textPath></text>
<text><textPath href="#p1_9" startOffset="50%" text-anchor="middle">target Oct</textPath></text>
<text><textPath href="#p1_10" startOffset="50%" text-anchor="middle">target Nov</textPath></text>
<text><textPath href="#p1_11" startOffset="50%" text-anchor="middle">target Dec</textPath></text>
<text><textPath href="#p1_12" startOffset="50%" text-anchor="middle">nbr Jan</textPath></text>
<text><textPath href="#p1_13" startOffset="50%" text-anchor="middle">nbr Feb</textPath></text>
<text><textPath href="#p1_14" startOffset="50%" text-anchor="middle">nbr Mar</textPath></text>
<text><textPath href="#p1_15" startOffset="50%" text-anchor="middle">nbr Apr</textPath></text>
<text><textPath href="#p1_16" startOffset="50%" text-anchor="middle">nbr May</textPath></text>
<text><textPath href="#p1_17" startOffset="50%" text-anchor="middle">nbr Jun</textPath></text>
<text><textPath href="#p1_18" startOffset="50%" text-anchor="middle">nbr Jul</textPath></text>
<text><textPath href="#p1_19" startOffset="50%" text-anchor="middle">nbr Aug</textPath></text>
<text><textPath href="#p1_20" startOffset="50%" text-anchor="middle">nbr Sep</textPath></text>
<text><textPath href="#p1_21" startOffset="50%" text-anchor="middle">nbr Oct</textPath></text>
<text><textPath href="#p1_22" startOffset="50%" text-anchor="middle">nbr Nov</textPath></text>
<text><textPath href="#p1_23" startOffset="50%" text-anchor="middle">nbr Dec</textPath></text>
</g>
</svg>
</body></html>
